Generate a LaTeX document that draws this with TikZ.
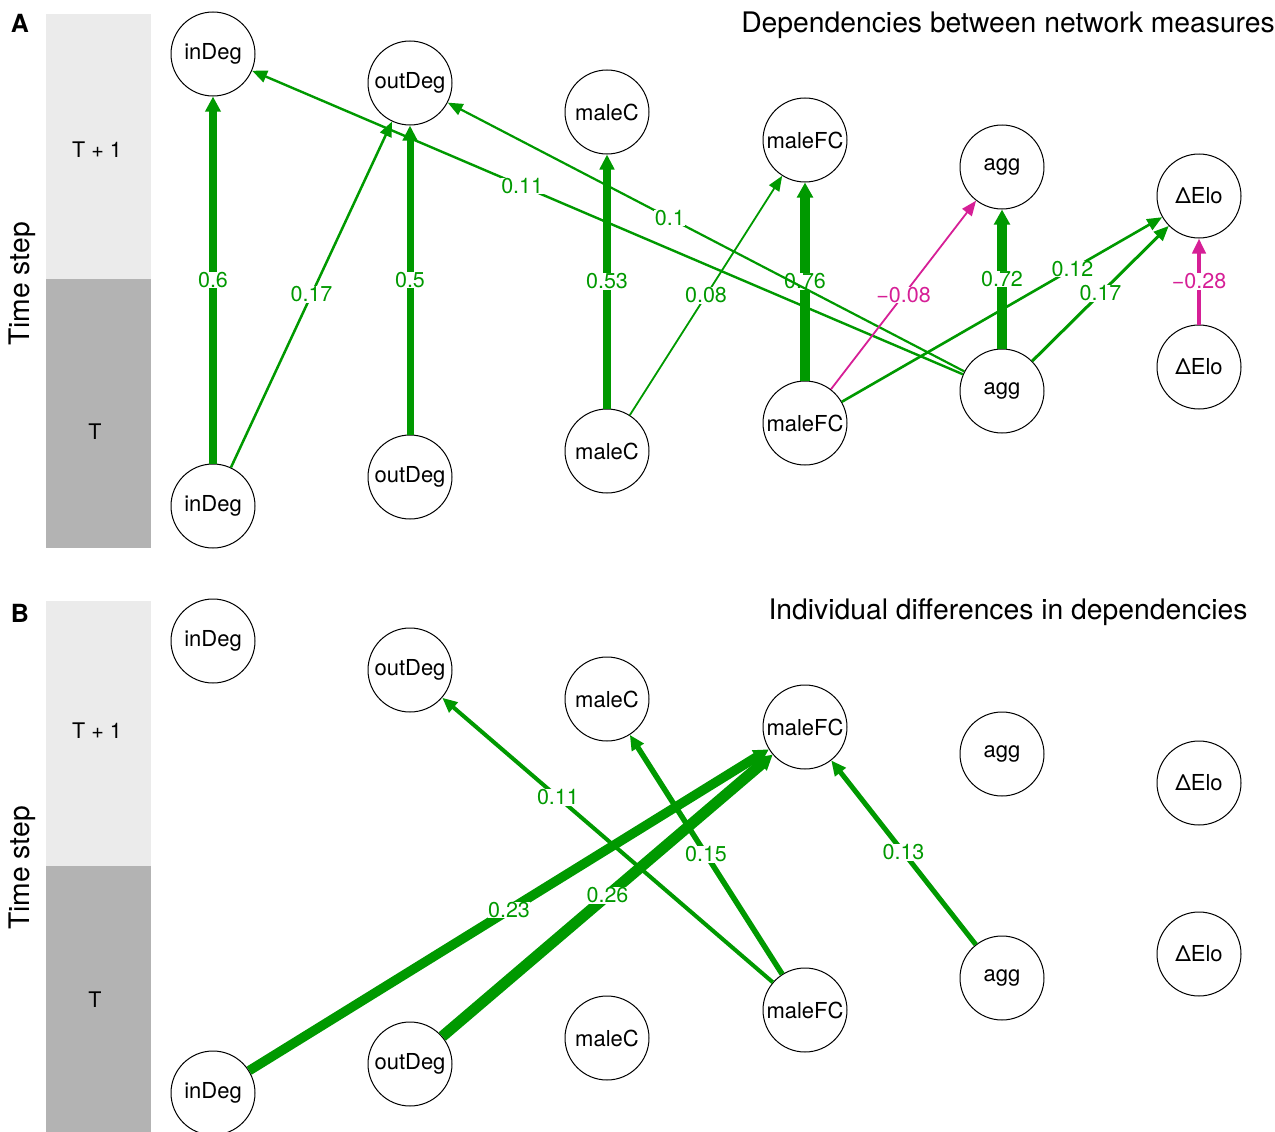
\documentclass[tikz,border=0pt]{standalone}
\usepackage{fontspec}
\setmainfont{TeX Gyre Heros}
\usetikzlibrary{arrows.meta}
\definecolor{posgreen}{RGB}{0,153,0}
\definecolor{negmag}{RGB}{214,31,150}
\definecolor{lightbar}{RGB}{235,235,235}
\definecolor{darkbar}{RGB}{179,179,179}
\tikzset{
  var/.style={circle,draw,line width=1pt,fill=white,minimum size=84pt,inner sep=0pt,font=\fontsize{22}{22}\selectfont},
  dep/.style={posgreen,-{Triangle[length=15pt,width=11pt 0.45]}},
  negdep/.style={dep,negmag},
  wlab/.style={fill=white,inner sep=0.5pt,font=\fontsize{21.5}{21.5}\selectfont},
  bartext/.style={font=\fontsize{21.5}{21.5}\selectfont},
  title/.style={font=\fontsize{28.3}{29}\selectfont}
}
\begin{document}
\begin{tikzpicture}[x=1pt,y=-1pt]
    \useasboundingbox (0,0) rectangle (1275,1132);
    % time step bars
    \fill[lightbar](46,14)rectangle(151,279);
    \fill[darkbar](46,279)rectangle(151,548);
    \fill[lightbar](46,601)rectangle(151,866);
    \fill[darkbar](46,866)rectangle(151,1132);
    \node[bartext] (Atop) at (97,150) {T + 1};
    \node[bartext] (Abot) at (95,432) {T};
    \node[bartext] (Btop) at (97,731) {T + 1};
    \node[bartext] (Bbot) at (95,1000) {T};
    \node[title,rotate=90] (Aaxis) at (22,284) {Time step};
    \node[title,rotate=90] (Baxis) at (22,868) {Time step};
    \node[font=\fontsize{25}{25}\selectfont\bfseries] (Apanel) at (20,23) {A};
    \node[font=\fontsize{25}{25}\selectfont\bfseries] (Bpanel) at (20,613) {B};
    \node[title] (Atitle) at (1008,25) {Dependencies between network measures};
    \node[title] (Btitle) at (1008,612) {Individual differences in dependencies};
    % variables, both panels (B is A moved down by 587)
    \foreach \nm/\txt/\x/\yt/\yb in {inDeg/inDeg/213/54/506, outDeg/outDeg/410/83/477,
        maleC/maleC/607/112/451, maleFC/maleFC/805/140/423, agg/agg/1002/167/391, Elo/ΔElo/1199/196/367}{
      \node[var] (A\nm t) at (\x,\yt) {\txt};
      \node[var] (A\nm b) at (\x,\yb) {\txt};
      \node[var] (B\nm t) at (\x,{\yt+587}) {\txt};
      \node[var] (B\nm b) at (\x,{\yb+587}) {\txt};
    }
    % panel A
    \draw[dep,line width=8.5pt](AinDegb)--node[wlab]{0.6}(AinDegt);
    \draw[dep,line width=2.5pt](AinDegb)--node[wlab]{0.17}(AoutDegt);
    \draw[dep,line width=7pt](AoutDegb)--node[wlab]{0.5}(AoutDegt);
    \draw[dep,line width=7.3pt](AmaleCb)--node[wlab]{0.53}(AmaleCt);
    \draw[dep,line width=1.8pt](AmaleCb)--node[wlab]{0.08}(AmaleFCt);
    \draw[dep,line width=10pt](AmaleFCb)--node[wlab]{0.76}(AmaleFCt);
    \draw[dep,line width=2.4pt](Aaggb)--node[wlab,pos=0.62]{0.11}(AinDegt);
    \draw[dep,line width=2.2pt](Aaggb)--node[wlab,pos=0.57]{0.1}(AoutDegt);
    \draw[negdep,line width=1.8pt](AmaleFCb)--node[wlab]{−0.08}(Aaggt);
    \draw[dep,line width=9.7pt](Aaggb)--node[wlab]{0.72}(Aaggt);
    \draw[dep,line width=2.6pt](AmaleFCb)--node[wlab,pos=0.72]{0.12}(AElot);
    \draw[dep,line width=3pt](Aaggb)--node[wlab]{0.17}(AElot);
    \draw[negdep,line width=4.5pt](AElob)--node[wlab]{−0.28}(AElot);
    % panel B
    \draw[dep,line width=9.5pt](BinDegb)--node[wlab]{0.23}(BmaleFCt);
    \draw[dep,line width=11pt](BoutDegb)--node[wlab]{0.26}(BmaleFCt);
    \draw[dep,line width=4pt](BmaleFCb)--node[wlab,pos=0.65]{0.11}(BoutDegt);
    \draw[dep,line width=5.5pt](BmaleFCb)--node[wlab]{0.15}(BmaleCt);
    \draw[dep,line width=5pt](Baggb)--node[wlab]{0.13}(BmaleFCt);
  \end{tikzpicture}
\end{document}
